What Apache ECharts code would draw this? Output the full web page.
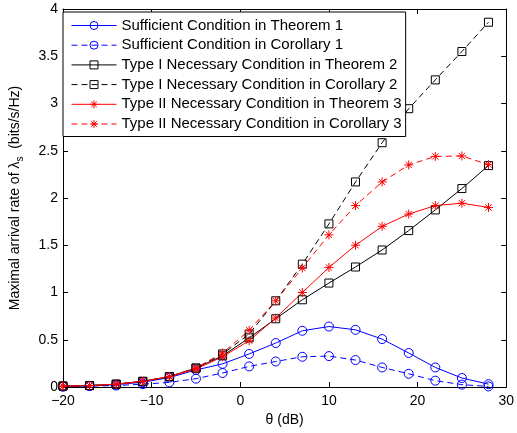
<!DOCTYPE html>
<html>
<head>
<meta charset="utf-8">
<script src="https://cdn.jsdelivr.net/npm/echarts@6/dist/echarts.min.js"></script>
<style>html,body{margin:0;padding:0;background:#fff}#c{width:517px;height:433px}</style>
</head>
<body>
<div id="c"></div>
<script>
var thetaDb = [-20,-17,-14,-11,-8,-5,-2,1,4,7,10,13,16,19,22,25,28];
var sufficientThm1 = [0.005,0.012,0.025,0.05,0.1,0.18,0.245,0.35,0.465,0.595,0.64,0.605,0.507,0.36,0.207,0.095,0.03];
var sufficientCor1 = [0.005,0.01,0.015,0.03,0.049,0.088,0.148,0.218,0.27,0.32,0.327,0.285,0.207,0.14,0.067,0.025,0.006];
var typeIThm2 = [0.01,0.015,0.03,0.06,0.11,0.2,0.33,0.52,0.722,0.923,1.10,1.27,1.45,1.655,1.874,2.10,2.343];
var typeICor2 = [0.01,0.015,0.03,0.06,0.11,0.2,0.35,0.56,0.912,1.30,1.726,2.17,2.585,2.945,3.25,3.55,3.86];
var typeIIThm3 = [0.01,0.015,0.03,0.06,0.11,0.19,0.32,0.49,0.73,1.00,1.265,1.50,1.70,1.83,1.92,1.945,1.90];
var typeIICor3 = [0.01,0.015,0.03,0.06,0.11,0.2,0.36,0.6,0.912,1.26,1.61,1.92,2.17,2.35,2.44,2.445,2.353];
var seriesNames = [
  'Sufficient Condition in Theorem 1',
  'Sufficient Condition in Corollary 1',
  'Type I Necessary Condition in Theorem 2',
  'Type I Necessary Condition in Corollary 2',
  'Type II Necessary Condition in Theorem 3',
  'Type II Necessary Condition in Corollary 3'
];

function pairs(ys){ return thetaDb.map(function(x,i){ return [x, ys[i]]; }); }
var FONT = 'Liberation Sans, Arial, Helvetica, sans-serif';
var star = 'path://M5,0L5,10M0,5L10,5M1.5,1.5L8.5,8.5M1.5,8.5L8.5,1.5';
var dash = [6,4];

function mk(name, ys, color, symbol, size, dashed){
  return {
    name: name, type: 'line', data: pairs(ys), clip: false,
    symbol: symbol, symbolSize: size, showSymbol: true,
    lineStyle: {color: color, width: 1, type: dashed ? dash : 'solid'},
    itemStyle: {color: symbol === star ? color : 'rgba(0,0,0,0)', borderColor: color, borderWidth: 1},
    emphasis: {disabled: true},
    animation: false,
    xAxisIndex: 0, yAxisIndex: 0
  };
}

var chart = echarts.init(document.getElementById('c'), null, {renderer: 'canvas'});
var minusFmt = function(v){ return v < 0 ? '\u2212' + Math.abs(v) : String(v); };
var tickStyle = {show: true, inside: true, length: 5, lineStyle: {color: '#000', width: 1}};
var lineAx = {show: true, onZero: false, lineStyle: {color: '#000', width: 1}};
chart.setOption({
  animation: false,
  backgroundColor: '#fff',
  grid: {left: 62, right: 8, top: 9, bottom: 46, containLabel: false},
  legend: {
    show: true, orient: 'vertical', left: 63, top: 12,
    data: seriesNames,
    itemWidth: 45, itemHeight: 10, itemGap: 2.7,
    padding: [5, 4, 4, 8],
    backgroundColor: '#fff', borderColor: '#000', borderWidth: 1, borderRadius: 0,
    lineStyle: {width: 1},
    itemStyle: {borderWidth: 1},
    textStyle: {fontFamily: FONT, fontSize: 15, color: '#000', lineHeight: 17},
    selectedMode: false
  },
  xAxis: [{
    type: 'value', min: -20, max: 30, interval: 10,
    name: '\u03b8 (dB)', nameLocation: 'middle', nameGap: 26,
    nameTextStyle: {fontFamily: FONT, fontSize: 14, color: '#000'},
    axisLine: lineAx,
    axisTick: tickStyle,
    axisLabel: {fontFamily: FONT, fontSize: 14, color: '#000', margin: 7, formatter: minusFmt},
    splitLine: {show: false}
  }, {
    type: 'value', min: -20, max: 30, interval: 10, position: 'top',
    axisLine: lineAx,
    axisTick: tickStyle, axisLabel: {show: false}, splitLine: {show: false}
  }],
  yAxis: [{
    type: 'value', min: 0, max: 4, interval: 0.5,
    name: '{m|Maximal arrival rate of \u03bb}{s|s}{m|  (bits/s/Hz)}', nameLocation: 'middle', nameGap: 38,
    nameTextStyle: {fontFamily: FONT, fontSize: 14, color: '#000',
      rich: {
        m: {fontFamily: FONT, fontSize: 14, color: '#000', verticalAlign: 'top'},
        s: {fontFamily: FONT, fontSize: 10, color: '#000', verticalAlign: 'top', padding: [7,0,0,0]}
      }},
    axisLine: lineAx,
    axisTick: tickStyle,
    axisLabel: {fontFamily: FONT, fontSize: 14, color: '#000', margin: 5},
    splitLine: {show: false}
  }, {
    type: 'value', min: 0, max: 4, interval: 0.5, position: 'right',
    axisLine: lineAx,
    axisTick: tickStyle, axisLabel: {show: false}, splitLine: {show: false}
  }],
  series: [
    mk(seriesNames[0], sufficientThm1, '#0000ff', 'circle', 9, false),
    mk(seriesNames[1], sufficientCor1, '#0000ff', 'circle', 9, true),
    mk(seriesNames[2], typeIThm2, '#000000', 'rect', 8, false),
    mk(seriesNames[3], typeICor2, '#000000', 'rect', 8, true),
    mk(seriesNames[4], typeIIThm3, '#ff0000', star, 9, false),
    mk(seriesNames[5], typeIICor3, '#ff0000', star, 9, true)
  ]
});
</script>
</body>
</html>
